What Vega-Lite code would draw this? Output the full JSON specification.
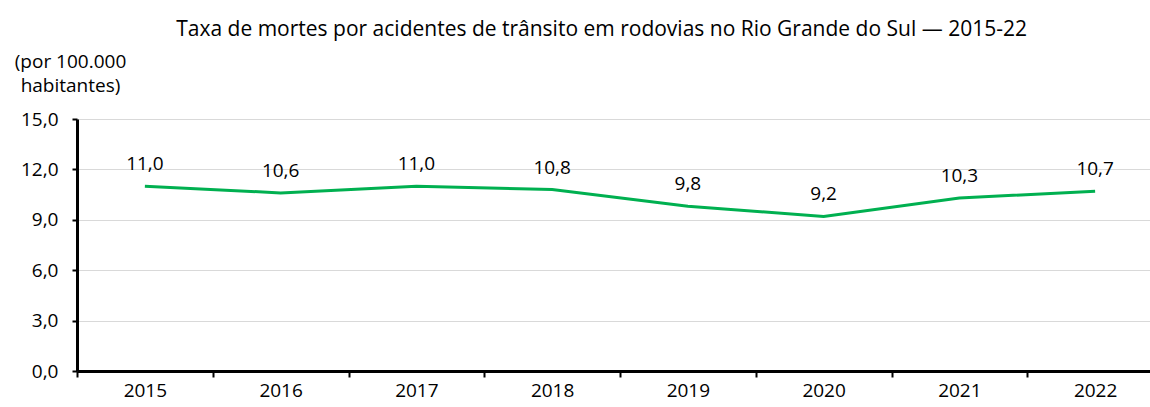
{
  "$schema": "https://vega.github.io/schema/vega-lite/v6.json",
  "width": 1086,
  "height": 252,
  "autosize": {"type": "none"},
  "padding": {"left": 77, "top": 119, "right": -13, "bottom": 36},
  "background": "white",
  "title": {
    "text": "Taxa de mortes por acidentes de trânsito em rodovias no Rio Grande do Sul — 2015-22",
    "font": "Open Sans",
    "fontSize": 21,
    "fontWeight": "normal",
    "color": "#000000",
    "anchor": "start",
    "dx": 162,
    "offset": 12
  },
  "config": {
    "view": {"stroke": null},
    "font": "Open Sans",
    "locale": {
      "number": {"decimal": ",", "thousands": ".", "grouping": [3], "currency": ["R$", ""]}
    }
  },
  "data": {
    "values": [
      {"ano": "2015", "taxa": 11.0},
      {"ano": "2016", "taxa": 10.6},
      {"ano": "2017", "taxa": 11.0},
      {"ano": "2018", "taxa": 10.8},
      {"ano": "2019", "taxa": 9.8},
      {"ano": "2020", "taxa": 9.2},
      {"ano": "2021", "taxa": 10.3},
      {"ano": "2022", "taxa": 10.7}
    ]
  },
  "encoding": {
    "x": {
      "field": "ano",
      "type": "ordinal",
      "scale": {"paddingInner": 0, "paddingOuter": 0},
      "axis": {
        "title": null,
        "labelAngle": 0,
        "labelFont": "Open Sans",
        "labelFontSize": 19,
        "labelColor": "#000000",
        "labelPadding": 4,
        "tickBand": "extent",
        "tickSize": 6,
        "tickWidth": 2,
        "tickColor": "#000000",
        "domainColor": "#000000",
        "domainWidth": 3,
        "grid": false
      }
    },
    "y": {
      "field": "taxa",
      "type": "quantitative",
      "scale": {"domain": [0, 15], "nice": false},
      "axis": {
        "values": [0, 3, 6, 9, 12, 15],
        "format": ".1f",
        "labelFont": "Open Sans",
        "labelFontSize": 19,
        "labelColor": "#000000",
        "labelPadding": 14,
        "tickSize": 5,
        "tickWidth": 2,
        "tickColor": "#000000",
        "domainColor": "#000000",
        "domainWidth": 3,
        "grid": true,
        "gridColor": "#d9d9d9",
        "gridWidth": 1,
        "title": ["(por 100.000", "habitantes)"],
        "titleAngle": 0,
        "titleAlign": "center",
        "titleBaseline": "top",
        "titleX": -7,
        "titleY": -67,
        "titleFont": "Open Sans",
        "titleFontSize": 19,
        "titleFontWeight": "normal",
        "titleColor": "#000000",
        "titleLineHeight": 24
      }
    }
  },
  "layer": [
    {
      "mark": {"type": "line", "color": "#00b050", "strokeWidth": 3}
    },
    {
      "mark": {"type": "text", "dy": -22, "fontSize": 19, "font": "Open Sans", "color": "#000000"},
      "encoding": {
        "text": {"field": "taxa", "type": "quantitative", "format": ".1f"}
      }
    }
  ]
}
